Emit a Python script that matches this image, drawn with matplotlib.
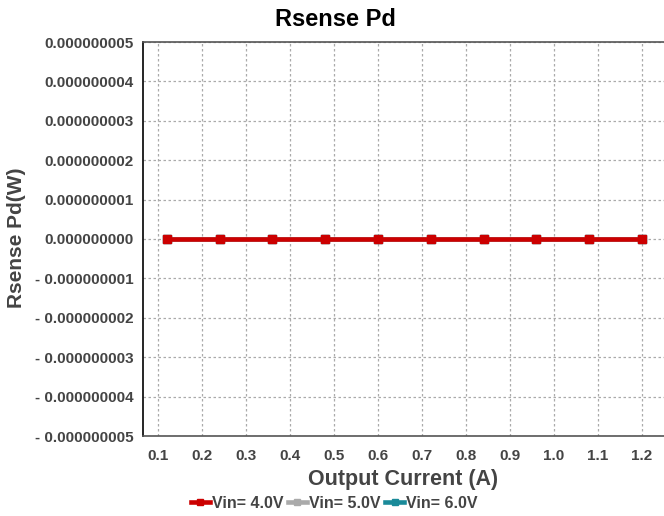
import matplotlib
matplotlib.use("Agg")
import matplotlib.pyplot as plt
from matplotlib.ticker import FixedLocator, FixedFormatter

plt.rcParams['font.family'] = ['Liberation Sans', 'DejaVu Sans']
plt.rcParams['font.weight'] = 'bold'

# data
current = [0.12, 0.24, 0.36, 0.48, 0.60, 0.72, 0.84, 0.96, 1.08, 1.20]
pd_vin4 = [0, 0, 0, 0, 0, 0, 0, 0, 0, 0]
pd_vin5 = [0, 0, 0, 0, 0, 0, 0, 0, 0, 0]
pd_vin6 = [0, 0, 0, 0, 0, 0, 0, 0, 0, 0]
series_labels = ["Vin= 4.0V", "Vin= 5.0V", "Vin= 6.0V"]
series_colors = ["#cc0000", "#aaaaaa", "#1a8a99"]
x_ticks = [0.1, 0.2, 0.3, 0.4, 0.5, 0.6, 0.7, 0.8, 0.9, 1.0, 1.1, 1.2]
x_ticklabels = ["0.1", "0.2", "0.3", "0.4", "0.5", "0.6", "0.7", "0.8", "0.9", "1.0", "1.1", "1.2"]
y_ticks = [5e-9, 4e-9, 3e-9, 2e-9, 1e-9, 0, -1e-9, -2e-9, -3e-9, -4e-9, -5e-9]
y_ticklabels = ["0.000000005", "0.000000004", "0.000000003", "0.000000002", "0.000000001",
                "0.000000000", "- 0.000000001", "- 0.000000002", "- 0.000000003",
                "- 0.000000004", "- 0.000000005"]

fig = plt.figure(figsize=(6.64, 5.16), dpi=100)
ax = fig.add_axes([143/664, 80/516, 1 - 143/664, (436-42)/516])

series = [pd_vin4, pd_vin5, pd_vin6]
handles = []
for i in [2, 1, 0]:
    h, = ax.plot(current, series[i], color=series_colors[i], lw=3.3, marker='s',
                 markersize=6, label=series_labels[i], zorder=3 + (2 - i))
    handles.append(h)
handles = handles[::-1]

ax.set_xlim(0.066, 1.25)
ax.set_ylim(-5e-9, 5e-9)
ax.xaxis.set_major_locator(FixedLocator(x_ticks))
ax.xaxis.set_major_formatter(FixedFormatter(x_ticklabels))
ax.yaxis.set_major_locator(FixedLocator(y_ticks))
ax.yaxis.set_major_formatter(FixedFormatter(y_ticklabels))

ax.grid(True, linestyle=(0, (2, 2)), color='#aaaaaa', linewidth=0.9)
ax.tick_params(axis='both', length=0, labelsize=11, labelcolor='#444444')
ax.tick_params(axis='y', pad=7)
ax.tick_params(axis='x', pad=9)
for lab in ax.get_xticklabels() + ax.get_yticklabels():
    lab.set_fontweight('bold')

ax.spines['right'].set_visible(False)
ax.spines['top'].set_color('#555555')
ax.spines['bottom'].set_color('#555555')
ax.spines['left'].set_color('black')
for s in ['top', 'bottom', 'left']:
    ax.spines[s].set_linewidth(1.2)

fig.text(335/664, 1 - 20/516, "Rsense Pd", ha='center', va='center', fontsize=17,
         fontweight='bold', color='black')
ax.set_xlabel("Output Current (A)", fontsize=15.5, fontweight='bold', color='#444444', labelpad=5)
fig.text(17/664, 1 - 238/516, "Rsense Pd(W)", rotation=90, ha='center', va='center',
         fontsize=15, fontweight='bold', color='#444444')

leg = fig.legend(handles=handles, labels=series_labels, loc='center',
                 bbox_to_anchor=(334/664, 1 - 503/516), ncol=3, frameon=False,
                 fontsize=11.5, handlelength=1.2, handletextpad=0.1, columnspacing=0.3,
                 markerscale=0.8)
for t in leg.get_texts():
    t.set_color('#444444')
    t.set_fontweight('bold')

fig.savefig("out.png", dpi=100)
